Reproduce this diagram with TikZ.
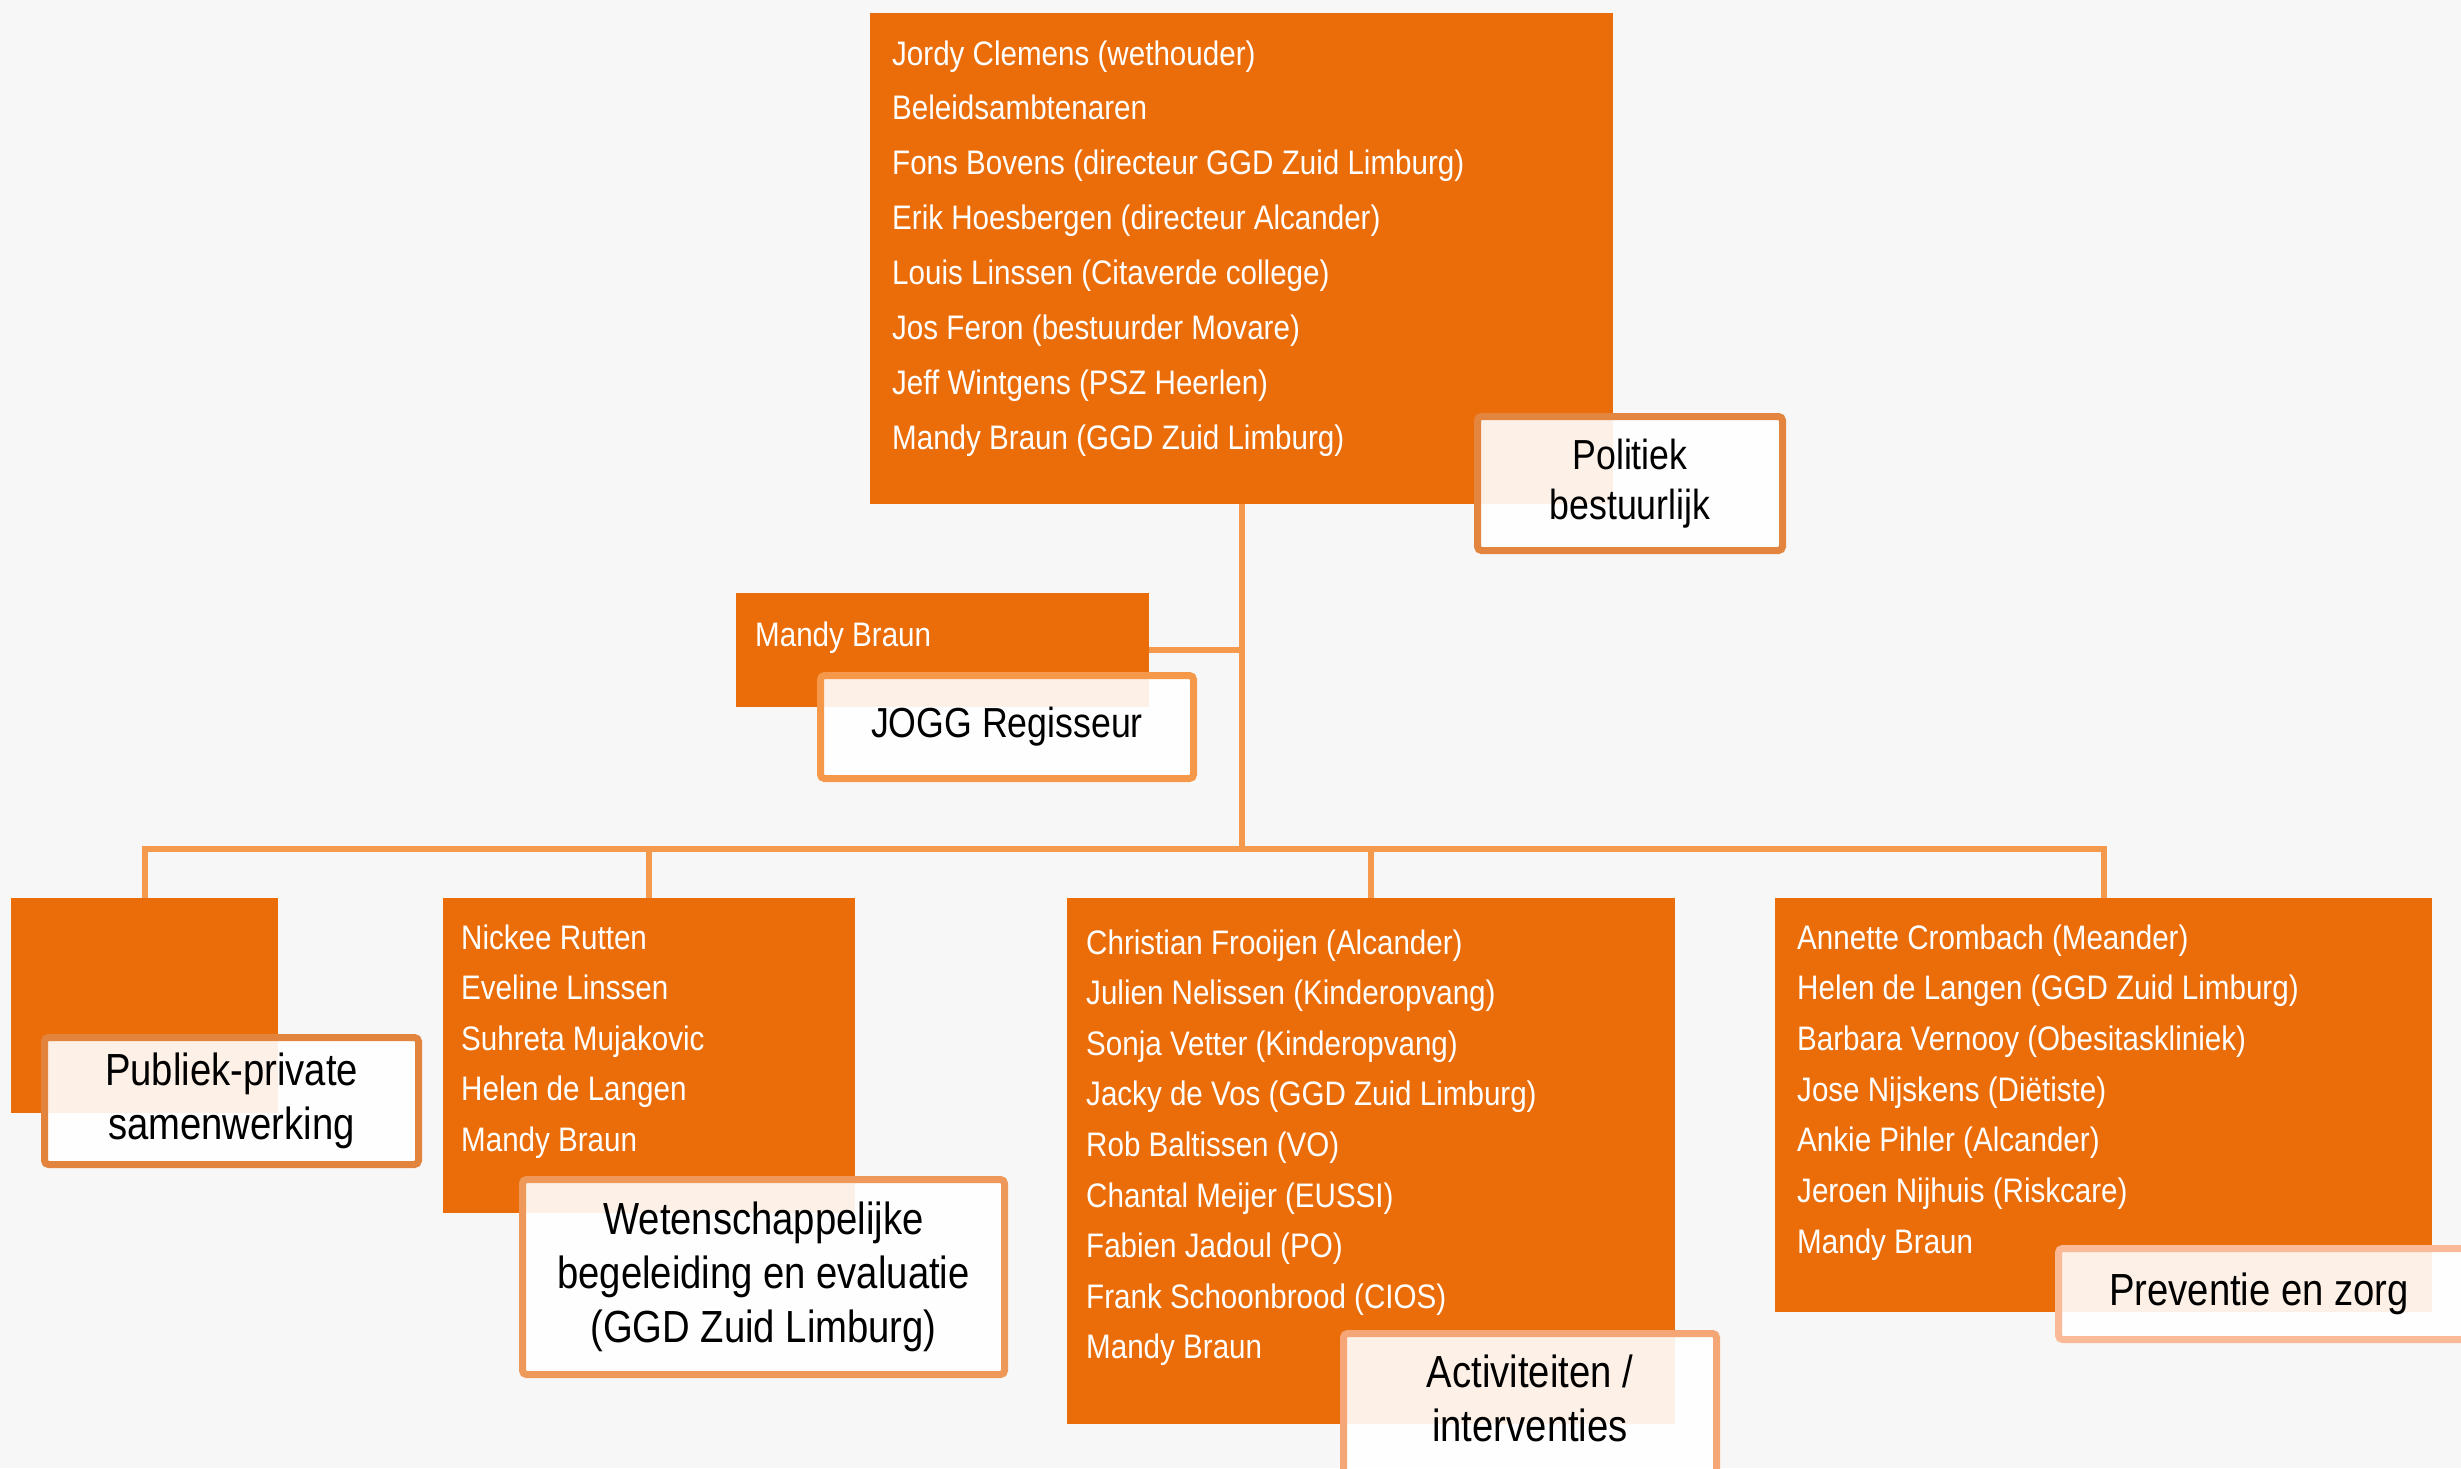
\documentclass[tikz,border=0pt]{standalone}
\usepackage{fontspec}
\newfontfamily\bodyfont{Liberation Sans}[FakeStretch=0.87]
\newfontfamily\lblfont{Liberation Sans}[FakeStretch=0.85]
\definecolor{bg}{HTML}{F7F7F7}
\definecolor{org}{HTML}{EB6D0A}
\definecolor{connc}{HTML}{F5994C}
\definecolor{bPol}{HTML}{E3853F}
\definecolor{bPub}{HTML}{E2843E}
\definecolor{bJogg}{HTML}{F6984A}
\definecolor{bWet}{HTML}{EE995A}
\definecolor{bAct}{HTML}{F4A676}
\definecolor{bPrev}{HTML}{FBBA97}
\newcommand\putlines[5]{\foreach \t [count=\i from 0] in {#5}{\node[wtxt] (#1-\i) at (#2,{#3+#4*\i}) {\t};}}
\begin{document}
\begin{tikzpicture}[x=1pt,y=-1pt,
  obox/.style={fill=org, draw=none, anchor=north west, inner sep=0, outer sep=0},
  wtxt/.style={anchor=base west, inner sep=0, text=white, font=\bodyfont\fontsize{34}{40}\selectfont},
  lbl/.style={draw=#1, line width=7pt, rounded corners=4pt, fill=white, fill opacity=0.9, text opacity=1,
    align=center, anchor=north west, inner sep=0, outer sep=0, text=black,
    font=\lblfont\fontsize{45}{54}\selectfont},
  conn/.style={draw=connc, line width=6pt}]
\useasboundingbox (0,0) rectangle (2461,1468);
\clip (0,0) rectangle (2461,1468);
\fill[bg] (0,0) rectangle (2461,1468);
% orange boxes
\node[obox, minimum width=743pt, minimum height=491pt] (top) at (870,13) {};
\node[obox, minimum width=413pt, minimum height=114pt] (mandy) at (736,593) {};
\node[obox, minimum width=267pt, minimum height=215pt] (box1) at (11,898) {};
\node[obox, minimum width=412pt, minimum height=315pt] (box2) at (443,898) {};
\node[obox, minimum width=608pt, minimum height=526pt] (box3) at (1067,898) {};
\node[obox, minimum width=657pt, minimum height=414pt] (box4) at (1775,898) {};
% connectors
\coordinate (bus) at (0,849);
\draw[conn] (top.south) -- (top.south |- bus);
\draw[conn, line join=miter] (box1.north) -- (box1.north |- bus) -- (box4.north |- bus) -- (box4.north);
\draw[conn] (box2.north |- bus) -- (box2.north);
\draw[conn] (box3.north |- bus) -- (box3.north);
\draw[conn] (mandy.east) -- (mandy.east -| top.south);
% texts
\putlines{tl}{892}{65}{54.9}{{Jordy Clemens (wethouder)},{Beleidsambtenaren},{Fons Bovens (directeur GGD Zuid Limburg)},{Erik Hoesbergen (directeur Alcander)},{Louis Linssen (Citaverde college)},{Jos Feron (bestuurder Movare)},{Jeff Wintgens (PSZ Heerlen)},{Mandy Braun (GGD Zuid Limburg)}}
\putlines{ml}{755}{646}{50}{{Mandy Braun}}
\putlines{b2l}{461}{949}{50.6}{{Nickee Rutten},{Eveline Linssen},{Suhreta Mujakovic},{Helen de Langen},{Mandy Braun}}
\putlines{b3l}{1086}{954}{50.6}{{Christian Frooijen (Alcander)},{Julien Nelissen (Kinderopvang)},{Sonja Vetter (Kinderopvang)},{Jacky de Vos (GGD Zuid Limburg)},{Rob Baltissen (VO)},{Chantal Meijer (EUSSI)},{Fabien Jadoul (PO)},{Frank Schoonbrood (CIOS)},{Mandy Braun}}
\putlines{b4l}{1797}{949}{50.7}{{Annette Crombach (Meander)},{Helen de Langen (GGD Zuid Limburg)},{Barbara Vernooy (Obesitaskliniek)},{Jose Nijskens (Diëtiste)},{Ankie Pihler (Alcander)},{Jeroen Nijhuis (Riskcare)},{Mandy Braun}}
% labels
\node[lbl=bPol, minimum width=305pt, minimum height=134pt, font=\lblfont\fontsize{42}{50}\selectfont] (lpol) at (1477.5,416.5) {Politiek\\bestuurlijk};
\node[lbl=bJogg, minimum width=373pt, minimum height=103pt, font=\lblfont\fontsize{42}{50}\selectfont] (ljogg) at (820.5,675.5) {JOGG Regisseur};
\node[lbl=bPub, minimum width=374pt, minimum height=127pt] (lpub) at (44.5,1037.5) {Publiek-private\\samenwerking};
\node[lbl=bWet, minimum width=482pt, minimum height=195pt] (lwet) at (522.5,1179.5) {Wetenschappelijke\\begeleiding en evaluatie\\(GGD Zuid Limburg)};
\node[lbl=bAct, minimum width=373pt, minimum height=140pt] (lact) at (1343.5,1333.5) {Activiteiten /\\interventies\\[-44pt]};
\node[lbl=bPrev, minimum width=420pt, minimum height=91pt] (lprev) at (2058.5,1248.5) {Preventie en zorg\hspace*{19pt}};
\end{tikzpicture}
\end{document}
